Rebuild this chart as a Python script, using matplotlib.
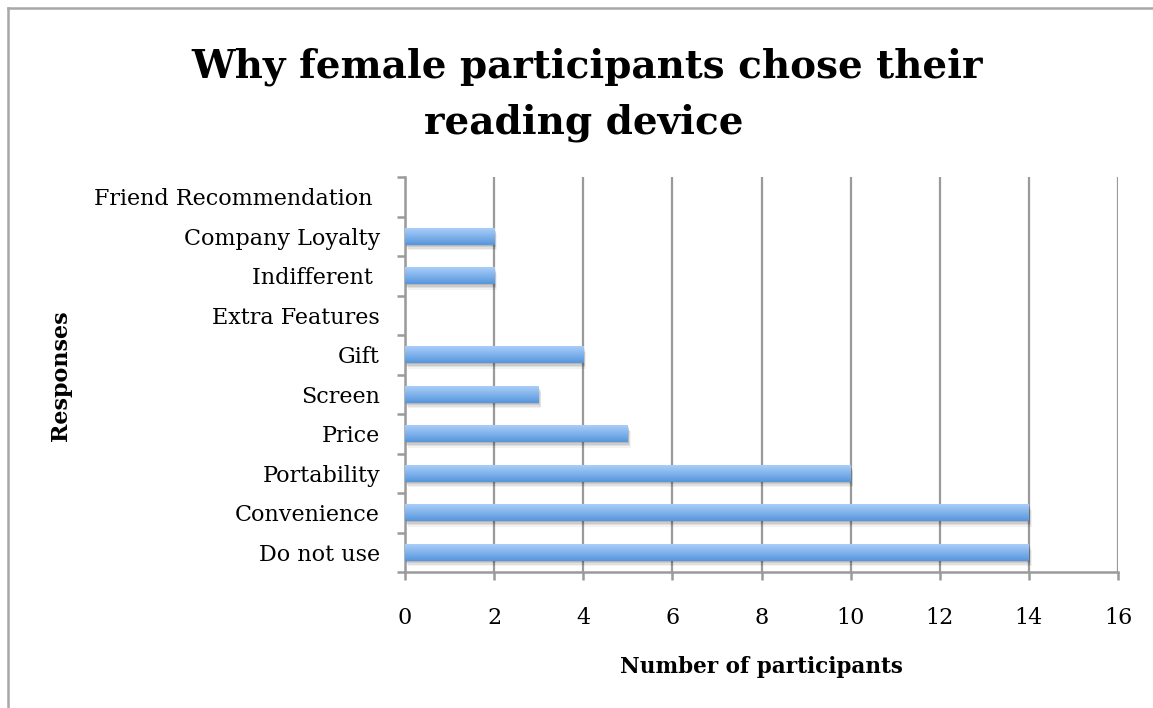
import numpy as np
import matplotlib.pyplot as plt
import matplotlib.patheffects as pe
from matplotlib.lines import Line2D

# === DATA ===
responses = ["Do not use", "Convenience", "Portability", "Price", "Screen",
             "Gift", "Extra Features", "Indifferent ", "Company Loyalty",
             "Friend Recommendation "]
counts = [14, 14, 10, 5, 3, 4, 0, 2, 2, 0]
x_ticks = [0, 2, 4, 6, 8, 10, 12, 14, 16]
title_lines = ["Why female participants chose their", "reading device"]

# === STYLE ===
plt.rcParams['font.family'] = ['DejaVu Serif']
GRID = '#9a9a9a'
TOP_BLUE = np.array([170, 206, 250]) / 255
BOT_BLUE = np.array([86, 150, 220]) / 255

W, H = 1153, 708
fig = plt.figure(figsize=(W / 100, H / 100), dpi=100)
ax = fig.add_axes([405 / W, 1 - 572 / H, (1118 - 405) / W, (572 - 177) / H])

# figure border (only top/left visible in the crop)
fig.add_artist(Line2D([8 / W, 8 / W], [0, 1 - 8 / H], transform=fig.transFigure,
                      color='#a8a8a8', lw=1.8))
fig.add_artist(Line2D([8 / W, 1], [1 - 8 / H, 1 - 8 / H], transform=fig.transFigure,
                      color='#a8a8a8', lw=1.8))

y = np.arange(len(responses))
bar_h = 0.42
bars = ax.barh(y, counts, height=bar_h, color=BOT_BLUE, zorder=3, linewidth=0)

# gradient fill + soft shadow (stacked offsets to fake a blur)
grad = np.linspace(0, 1, 64)[:, None]
img = TOP_BLUE[None, None, :] * (1 - grad[..., None]) + BOT_BLUE[None, None, :] * grad[..., None]
shadow = [pe.SimplePatchShadow(offset=(o * 0.5, -o), shadow_rgbFace='black', alpha=a)
          for o, a in [(4, 0.05), (3, 0.07), (2, 0.09), (1, 0.1)]]
for b, v, yy in zip(bars, counts, y):
    if v == 0:
        continue
    b.set_path_effects(shadow + [pe.Normal()])
    im = ax.imshow(img, extent=[0, v, yy - bar_h / 2, yy + bar_h / 2], aspect='auto',
                   origin='upper', zorder=4, interpolation='bilinear')
    im.set_clip_path(b)

ax.set_xlim(0, 16)
ax.set_ylim(-0.5, len(responses) - 0.5)
ax.set_xticks(x_ticks)
ax.set_yticks(y)
ax.set_yticklabels(responses)
ax.set_yticks(np.arange(-0.5, len(responses), 1), minor=True)

ax.grid(axis='x', color=GRID, lw=1.6, zorder=1)
ax.set_axisbelow(True)
for s in ['top', 'right']:
    ax.spines[s].set_visible(False)
for s in ['left', 'bottom']:
    ax.spines[s].set_color(GRID)
    ax.spines[s].set_linewidth(1.8)

ax.tick_params(axis='y', which='major', length=0, pad=18, labelsize=16)
ax.tick_params(axis='y', which='minor', length=6, width=1.8, color=GRID)
ax.tick_params(axis='x', which='major', length=6, width=1.8, color=GRID,
               pad=19, labelsize=16)

ax.set_xlabel('Number of participants', fontsize=15.5, fontweight='bold', labelpad=20)
fig.text(61 / W, 1 - 376 / H, 'Responses', rotation=90, fontsize=16,
         fontweight='bold', ha='center', va='center')

fig.text(587 / W, 1 - 77 / H, title_lines[0], ha='center', va='baseline',
         fontsize=28, fontweight='bold')
fig.text(584 / W, 1 - 133 / H, title_lines[1], ha='center', va='baseline',
         fontsize=28, fontweight='bold')

fig.savefig('out.png', dpi=100)
